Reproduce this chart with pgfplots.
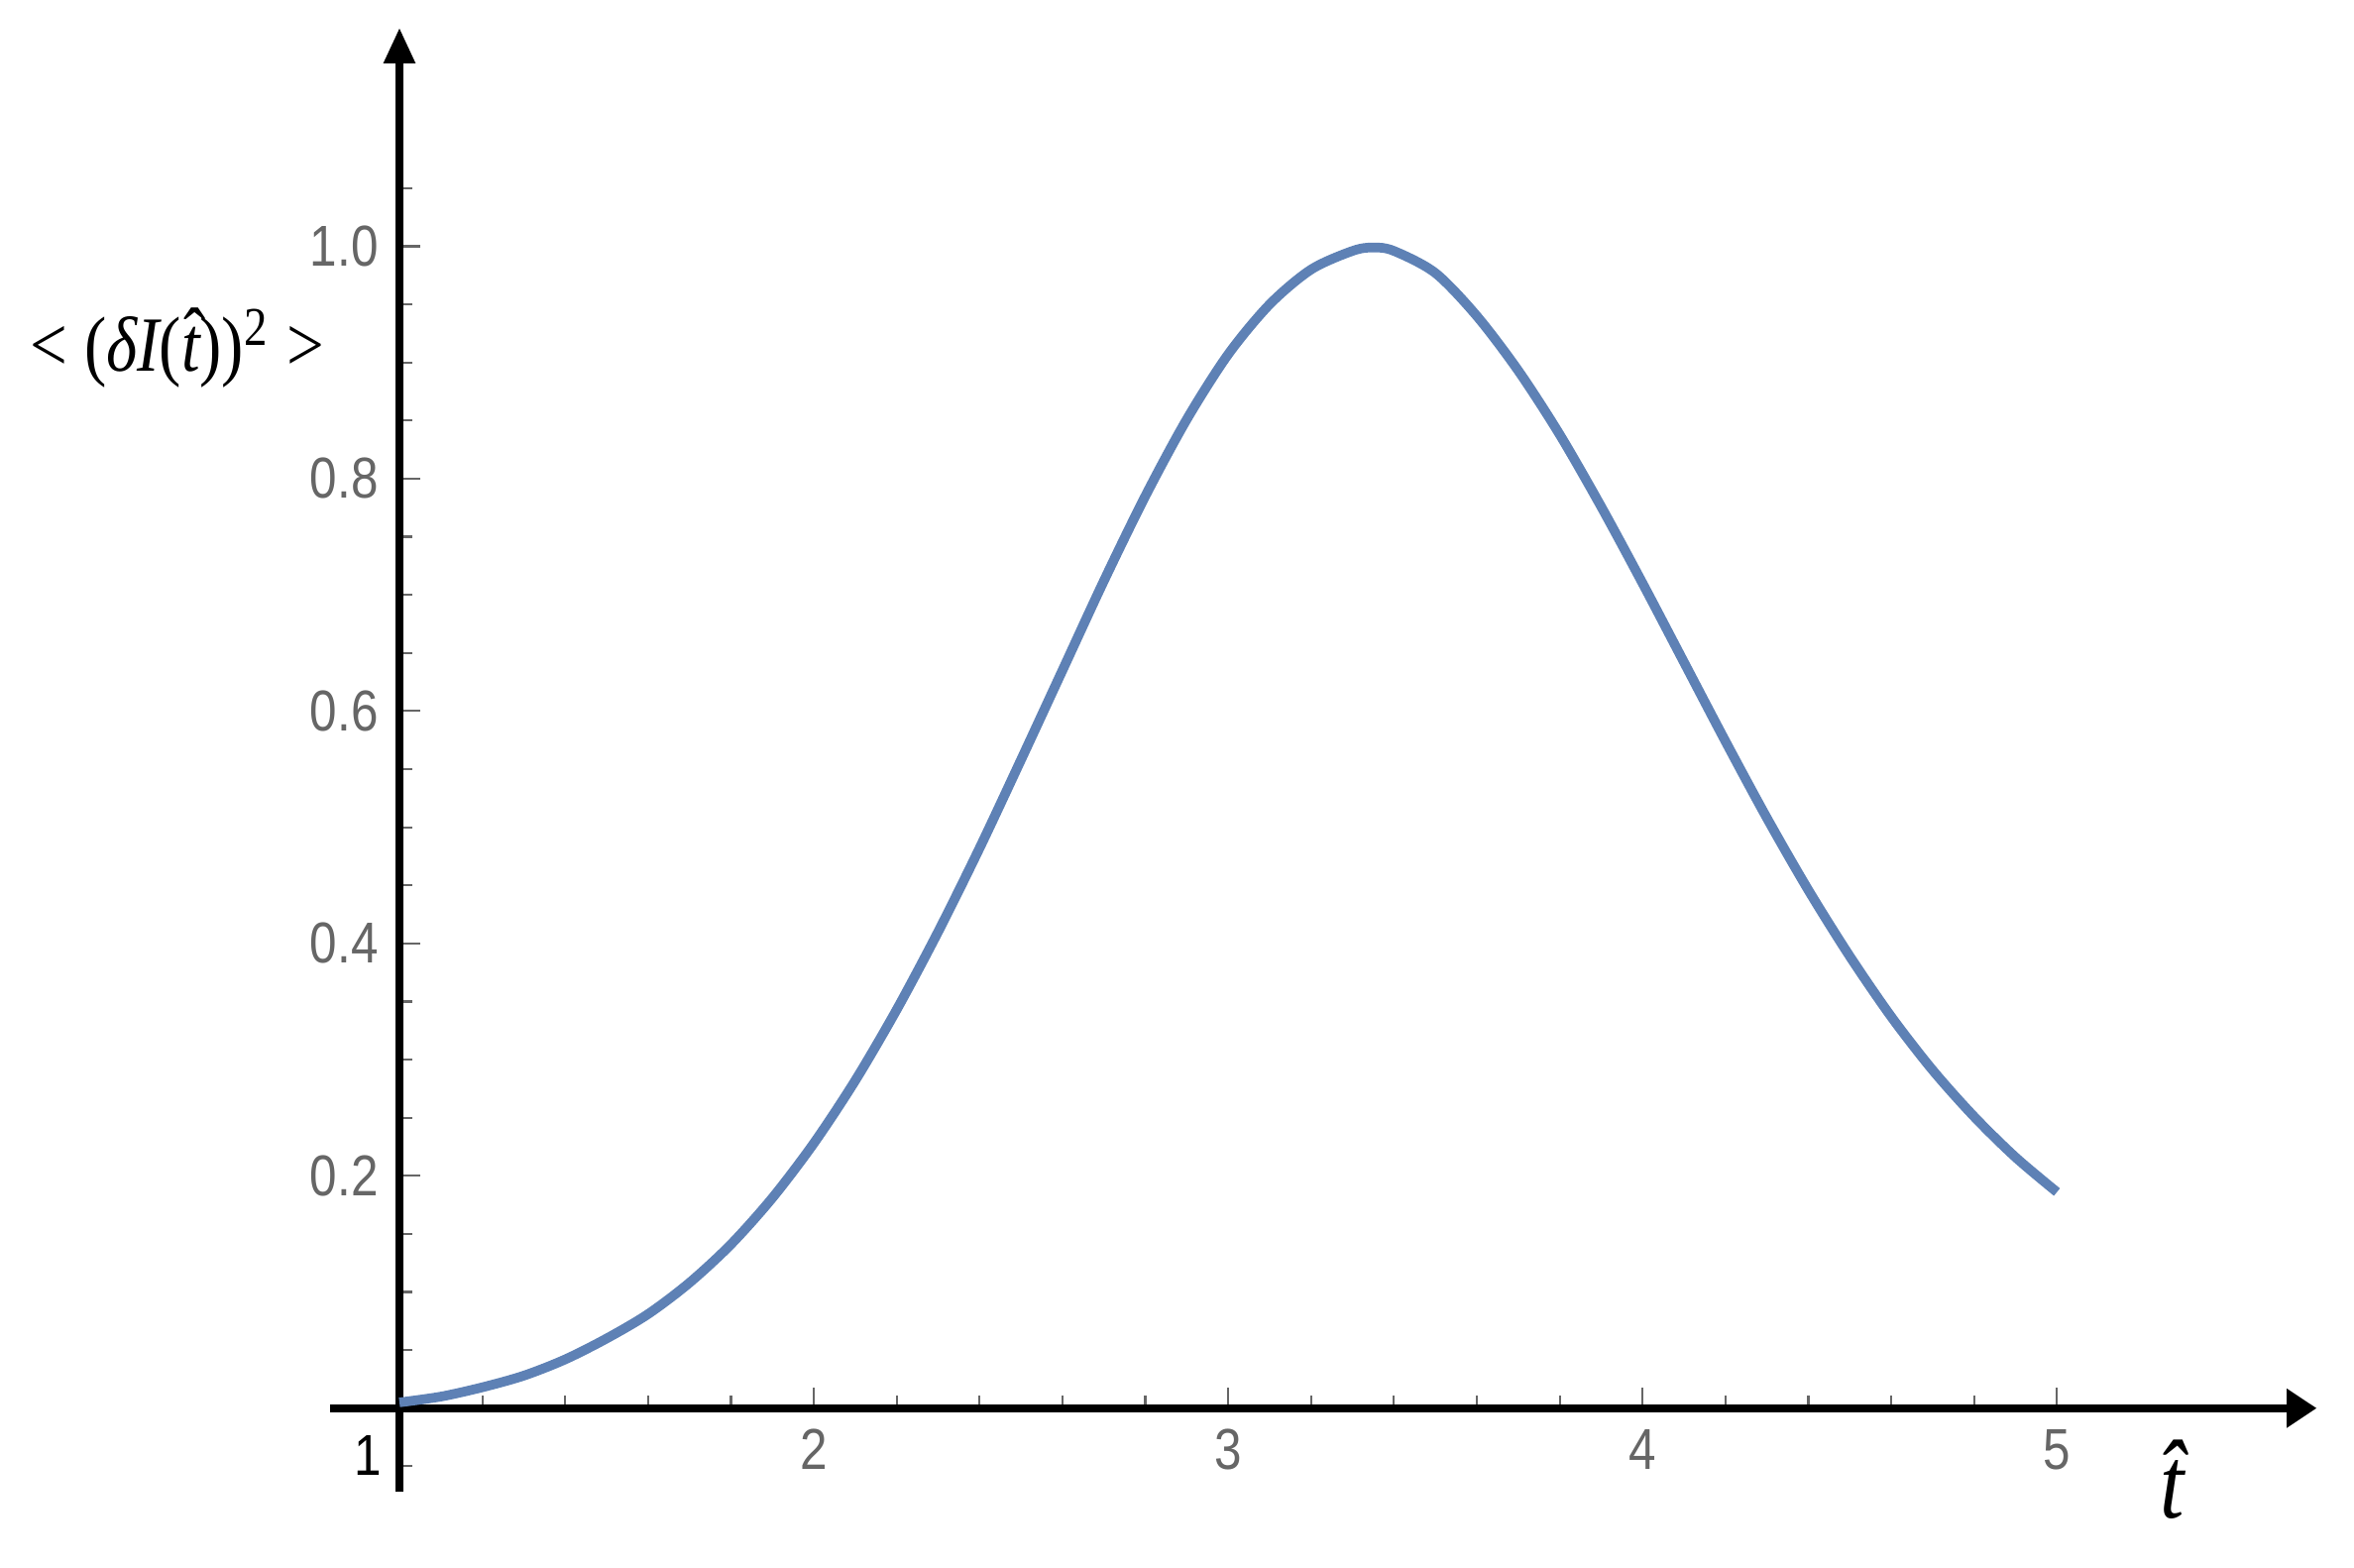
\documentclass[border=0pt]{standalone}
\usepackage{fontspec}
\usepackage{pgfplots}
\pgfplotsset{compat=1.18}
\usepackage{pgfplotstable}
\usetikzlibrary{arrows.meta}

\newfontfamily\tickfont[FakeStretch=0.85]{Liberation Sans}
\newfontfamily\labelfont[FakeStretch=0.85]{Liberation Serif}
\definecolor{curveblue}{HTML}{5E81B5}
\definecolor{tickgray}{HTML}{666666}
% italic t with a hat, for the y label
\newcommand\hatt{\ooalign{\itshape t\cr\hidewidth\kern0.12em\raisebox{0.12em}{ˆ}\hidewidth\cr}}

% values
\pgfplotstableread{
t    v
1.00 0.005
1.10 0.010
1.20 0.018
1.30 0.028
1.40 0.042
1.50 0.060
1.60 0.081
1.70 0.108
1.80 0.141
1.90 0.181
2.00 0.228
2.10 0.282
2.20 0.343
2.30 0.410
2.40 0.482
2.50 0.558
2.60 0.635
2.70 0.712
2.80 0.785
2.90 0.851
3.00 0.907
3.10 0.950
3.20 0.980
3.30 0.996
3.35 0.999
3.40 0.996
3.50 0.977
3.60 0.940
3.70 0.893
3.80 0.838
3.90 0.776
4.00 0.710
4.10 0.642
4.20 0.574
4.30 0.508
4.40 0.446
4.50 0.389
4.60 0.337
4.70 0.291
4.80 0.251
4.90 0.216
5.00 0.186
}\curvedata

\begin{document}
\begin{tikzpicture}
\begin{axis}[
    scale only axis,
    width=330.8pt, height=243.8pt,
    axis lines=middle,
    xmin=-0.167, xmax=4.627,
    ymin=-0.072, ymax=1.188,
    xtick={1,2,3,4}, xticklabels={2,3,4,5},
    minor xtick={0.2,0.4,0.6,0.8,1.2,1.4,1.6,1.8,2.2,2.4,2.6,2.8,3.2,3.4,3.6,3.8},
    ytick={0.2,0.4,0.6,0.8,1.0},
    minor ytick={-0.05,0.05,0.1,0.15,0.25,0.3,0.35,0.45,0.5,0.55,0.65,0.7,0.75,0.85,0.9,0.95,1.05},
    y tick label style={/pgf/number format/.cd,fixed,fixed zerofill,precision=1,/tikz/.cd},
    /pgf/number format/assume math mode=true,
    tick label style={font=\tickfont\fontsize{9.6}{11}\selectfont, text=tickgray},
    tick align=inside,
    major tick length=3.5pt, minor tick length=2.1pt,
    tick style={tickgray, line width=0.35pt},
    axis line style={line width=1.25pt},
    x axis line style={-{Triangle[length=5pt,width=6.2pt]}},
    y axis line style={-{Triangle[length=5.9pt,width=5pt]}},
    clip=false,
]
\addplot[smooth, line width=1.6pt, color=curveblue] table[x expr=\thisrow{t}-1, y=v] {\curvedata};

\node[font=\labelfont\fontsize{13}{15}\selectfont] at (axis cs:-0.536,0.912)
    {< ({\itshape δI}(\hatt))\textsuperscript{2} >};
\node[font=\labelfont\itshape\fontsize{17}{20}\selectfont] at (axis cs:4.279,-0.061) {\^t};
\node[font=\tickfont\fontsize{9.6}{11}\selectfont] at (axis cs:-0.076,-0.041) {1};
\path (axis cs:-0.964,-0.137) rectangle (axis cs:4.717,1.212);
\end{axis}
\end{tikzpicture}
\end{document}
